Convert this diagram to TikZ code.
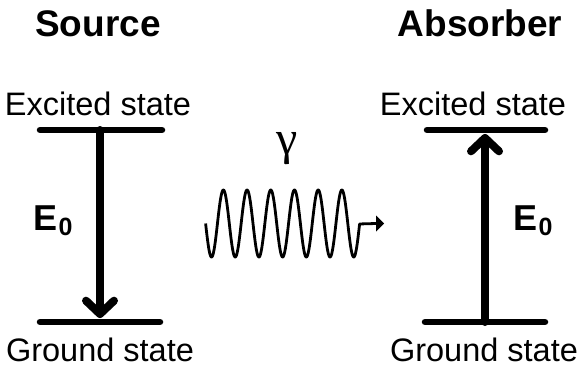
\documentclass[tikz,border=0pt]{standalone}
\usepackage{fontspec}
\setmainfont{Liberation Sans}
\newfontfamily\greekserif{Liberation Serif}
\newcommand{\nodepth}[1]{\raisebox{0pt}[\height][0pt]{#1}}
\begin{document}
\begin{tikzpicture}[x=1pt,y=-1pt,
  level/.style={line width=6.5pt, line cap=round},
  shaft/.style={line width=8pt, line cap=round, line join=round},
  wave/.style={line width=2.8pt, line join=round},
  title/.style={font=\bfseries\fontsize{37}{44}\selectfont, inner sep=0pt, anchor=base},
  statelabel/.style={font=\fontsize{32.5}{38}\selectfont, inner sep=0pt, anchor=base},
  elabel/.style={font=\bfseries\fontsize{36}{42}\selectfont, inner sep=0pt, anchor=base west},
  greeklabel/.style={font=\greekserif\fontsize{48}{54}\selectfont, inner sep=0pt, anchor=base}
]
\useasboundingbox (0,0) rectangle (580,364);
% titles
\node[title] (src) at (98,36.5) {Source};
\node[title] (abs) at (480,36.5) {Absorber};
% state labels
\node[statelabel] (exLtxt) at (98,115) {Excited state};
\node[statelabel] (exRtxt) at (473,115) {Excited state};
\node[statelabel] (gsLtxt) at (100,361) {\nodepth{Ground state}};
\node[statelabel] (gsRtxt) at (484,361) {\nodepth{Ground state}};
% levels
\coordinate (exLa) at (40,130); \coordinate (exLb) at (162,130);
\coordinate (exRa) at (427,130); \coordinate (exRb) at (545,130);
\coordinate (gsLa) at (40,322); \coordinate (gsLb) at (160,322);
\coordinate (gsRa) at (425,322); \coordinate (gsRb) at (545,322);
\draw[level] (exLa) -- (exLb);
\draw[level] (exRa) -- (exRb);
\draw[level] (gsLa) -- (gsLb);
\draw[level] (gsRa) -- (gsRb);
% transition points
\coordinate (exL) at (100,130); \coordinate (tipL) at (100,314);
\coordinate (gsR) at (485,322); \coordinate (tipR) at (485,138);
% emission arrow (down)
\draw[shaft] (exL) -- (tipL);
\draw[shaft] ([xshift=-14pt,yshift=13.3pt]tipL) -- (tipL) -- ([xshift=14pt,yshift=13.3pt]tipL);
% absorption arrow (up)
\draw[shaft] (gsR) -- (tipR);
\draw[shaft] ([xshift=-14pt,yshift=-13.3pt]tipR) -- (tipR) -- ([xshift=14pt,yshift=-13.3pt]tipR);
% energy labels
\node[elabel] (e0L) at (33.4,230) {E\kern1pt\raisebox{-5pt}{\fontsize{25}{30}\selectfont 0}};
\node[elabel] (e0R) at (513.4,230) {E\kern1pt\raisebox{-5pt}{\fontsize{25}{30}\selectfont 0}};
% gamma
\node[greeklabel] (gam) at (287,154) {γ};
% wave
\coordinate (harrow) at (376,223.5);
\draw[wave] plot[domain=205.6:359.6, samples=500] (\x, {223.5 + 33.5*sin(15.19*(\x-205.6))}) -- (harrow);
\fill (376,215.5) -- (384,223.5) -- (376,231.5) -- cycle;
\end{tikzpicture}
\end{document}
